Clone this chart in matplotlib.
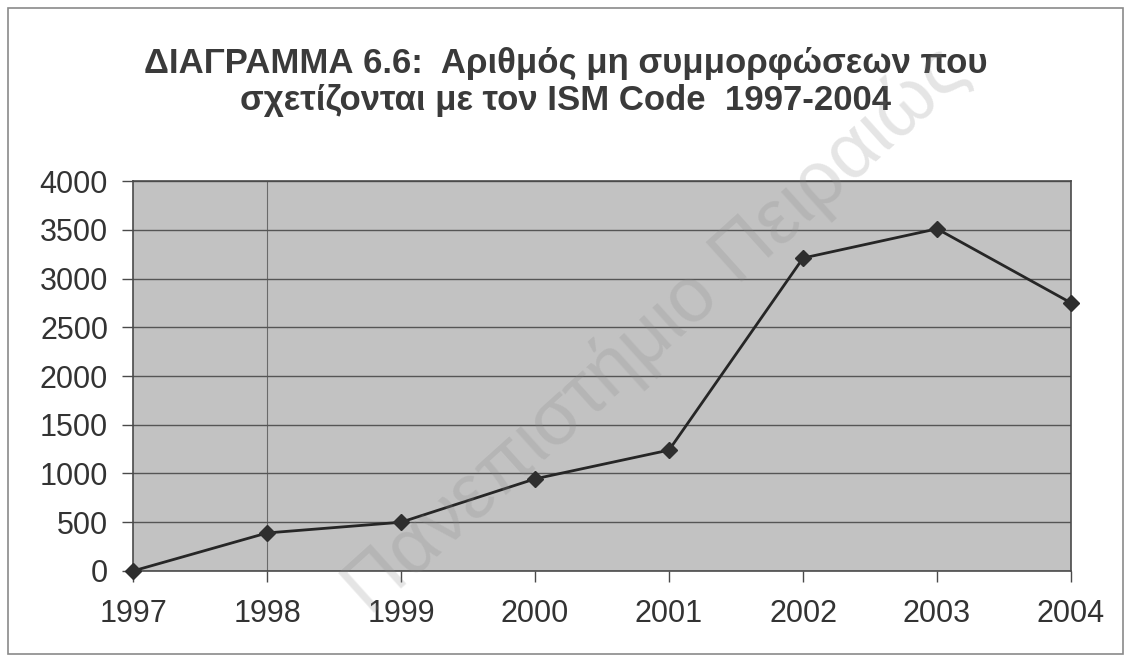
import matplotlib.pyplot as plt
from matplotlib.patches import Rectangle

# data
years = [1997, 1998, 1999, 2000, 2001, 2002, 2003, 2004]
counts = [0, 390, 500, 945, 1240, 3210, 3510, 2750]
y_ticks = [0, 500, 1000, 1500, 2000, 2500, 3000, 3500, 4000]

title = "ΔΙΑΓΡΑΜΜΑ 6.6:  Αριθμός μη συμμορφώσεων που\nσχετίζονται με τον ISM Code  1997-2004"

plt.rcParams['font.family'] = ['Liberation Sans', 'DejaVu Sans']

fig = plt.figure(figsize=(11.31, 6.62), dpi=100)
fig.patch.set_facecolor('white')

# frame around the whole chart
fig.patches.append(Rectangle((0.007, 0.012), 0.986, 0.976, transform=fig.transFigure,
                             fill=False, edgecolor='#8a8a8a', linewidth=1.2))

ax = fig.add_axes([0.1176, 0.1375, 0.8294, 0.589])
ax.set_facecolor('#c2c2c2')

ax.plot(years, counts, color='#262626', linewidth=2, marker='D', markersize=8,
        markerfacecolor='#2e2e2e', markeredgecolor='#2e2e2e', zorder=3, clip_on=False)

ax.set_xlim(years[0], years[-1])
ax.set_ylim(0, 4000)
ax.set_xticks(years)
ax.set_yticks(y_ticks)
ax.grid(axis='y', color='#555555', linewidth=1)
ax.axvline(1998, color='#6a6a6a', linewidth=0.8, zorder=1)

for s in ax.spines.values():
    s.set_color('#4a4a4a')
    s.set_linewidth(1.2)

ax.tick_params(axis='both', labelsize=22, colors='#4a4a4a', labelcolor='#333333',
               direction='out', length=8, width=1)
ax.tick_params(axis='x', pad=12)
ax.tick_params(axis='y', pad=10)

fig.text(0.5, 0.876, title, ha='center', va='center', fontsize=25, fontweight='bold',
         color='#3a3a3a', linespacing=1.15)

# faint diagonal watermark from the scanned page
fig.text(0.58, 0.5, "Πανεπιστήμιο Πειραιώς", ha='center', va='center', fontsize=56,
         rotation=42, color='#888888', alpha=0.22, zorder=10)

fig.savefig('out.png', dpi=100)
